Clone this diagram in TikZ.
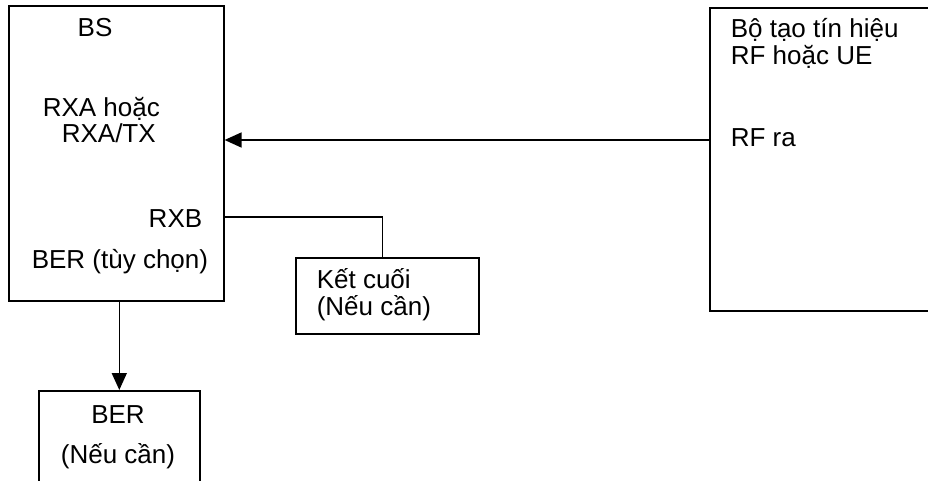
\documentclass[tikz,border=0pt]{standalone}
\usepackage{fontspec}
\setmainfont{Liberation Sans}
\usetikzlibrary{positioning,arrows.meta}

\begin{document}
\begin{tikzpicture}[
  x=1pt, y=-1pt,
  line width=1.6pt,
  >={Triangle[length=17pt,width=15pt]},
  boxstyle/.style={
        draw,
        rectangle,
        inner sep=0,
        anchor=north west
  },
  label/.style={
        inner sep=0,
        font=\fontsize{26}{27}\selectfont
  }
]

    \useasboundingbox (0,0) rectangle (928,481);
    \clip (0,0) rectangle (928,481);

    % boxes
    \node[boxstyle, minimum width=215, minimum height=295] (bs) at (8,5) {};
    \node[boxstyle, minimum width=240, minimum height=303] (gen) at (709,7) {};
    \node[boxstyle, minimum width=183, minimum height=76] (term) at (295,257) {};
    \node[boxstyle, minimum width=161, minimum height=110] (ber) at (38,390) {};

    % texts
    \node[label, anchor=base] (bs_name) at (95,37) {BS};
    \node[label, anchor=base west] (rxa_1) at (42,117) {RXA hoặc};
    \node[label, anchor=base west] (rxa_2) at (61,143) {RXA/TX};
    \node[label, anchor=base east] (rxb) at (203,227) {RXB};
    \node[label, anchor=base west] (ber_opt) at (31,268) {BER (tùy chọn)};

    \node[label, anchor=base west] (gen_1) at (730,38) {Bộ tạo tín hiệu};
    \node[label, anchor=base west] (gen_2) at (730,65) {RF hoặc UE};
    \node[label, anchor=base west] (rf_out) at (730,147) {RF ra};

    \node[label, anchor=base west] (term_1) at (316,288) {Kết cuối};
    \node[label, anchor=base west] (term_2) at (316,315) {(Nếu cần)};

    \node[label, anchor=base] (ber_1) at (118,423) {BER};
    \node[label, anchor=base] (ber_2) at (118,463) {(Nếu cần)};

    % connectors
    \coordinate (rf_port) at (709,140);
    \coordinate (rxb_port) at (223,217);

    \draw[->] (rf_port) -- (rf_port -| bs.east);
    \draw (rxb_port) -| ([xshift=-5pt]term.north);
    \draw[->] (bs.south -| ber.north) -- (ber.north);
\end{tikzpicture}
\end{document}
